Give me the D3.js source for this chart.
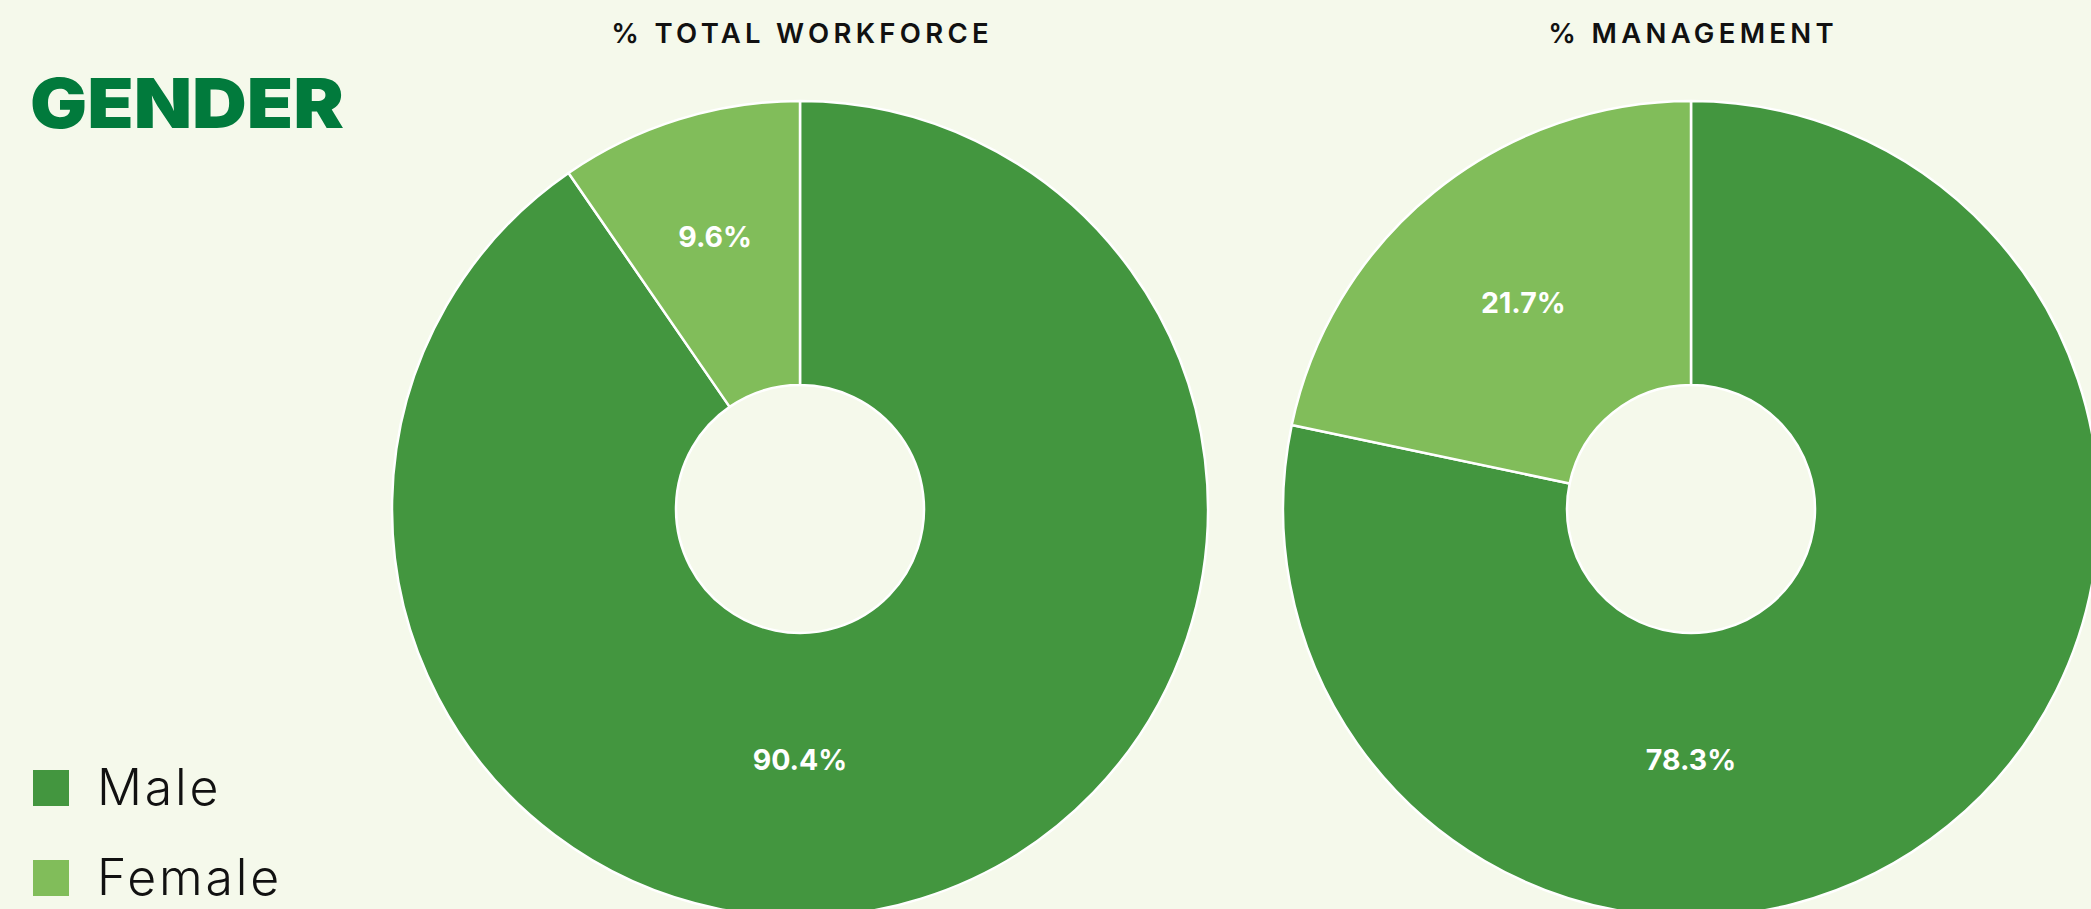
<!DOCTYPE html>
<html>
<head>
<meta charset="utf-8">
<script src="https://cdn.jsdelivr.net/npm/d3@7"></script>
<style>
  html, body { margin: 0; padding: 0; background: #F5F9EB; overflow: hidden; }
  svg { display: block; }
</style>
</head>
<body>
<svg id="chart" width="2091" height="909"></svg>
<script>
// Gender split of the workforce, shown as two donuts
const categories = ["Male", "Female"];
const panelTitles = ["% TOTAL WORKFORCE", "% MANAGEMENT"];
const workforceShare = [90.4, 9.6];
const managementShare = [78.3, 21.7];
const seriesValues = [workforceShare, managementShare];

const W = 2091, H = 909;
const colors = d3.scaleOrdinal().domain(categories).range(["#43963F", "#81BD5A"]);

const svg = d3.select("#chart");
svg.append("rect").attr("width", W).attr("height", H).attr("fill", "#F5F9EB");

// Heading
svg.append("text")
  .attr("x", 30).attr("y", 128)
  .attr("font-family", "Inter, 'Noto Sans', sans-serif")
  .attr("font-weight", 900)
  .attr("font-size", 69)
  .attr("fill", "#017A3C")
  .attr("textLength", 314)
  .attr("lengthAdjust", "spacingAndGlyphs")
  .text("GENDER");

// Panel layout
const outerR = 408, innerR = 124;
const centers = d3.scalePoint().domain(panelTitles).range([800, 1691]);
const cy = 509;

const pie = d3.pie().sort(null).value(d => d.value);
const arc = d3.arc().innerRadius(innerR).outerRadius(outerR);

const titleSpacing = 4.3;

panelTitles.forEach((title, i) => {
  const cx = centers(title);
  const data = categories.map((c, k) => ({ category: c, value: seriesValues[i][k] }));
  const total = d3.sum(data, d => d.value);

  svg.append("text")
    .attr("x", cx + titleSpacing / 2).attr("y", 43)
    .attr("text-anchor", "middle")
    .attr("font-family", "Inter, 'Noto Sans', sans-serif")
    .attr("font-weight", 600)
    .attr("font-size", 27.5)
    .attr("letter-spacing", titleSpacing)
    .attr("fill", "#111")
    .text(title);

  const g = svg.append("g").attr("transform", `translate(${cx},${cy})`);
  const arcs = pie(data);

  g.selectAll("path").data(arcs).join("path")
    .attr("d", arc)
    .attr("fill", d => colors(d.data.category))
    .attr("stroke", "#ffffff")
    .attr("stroke-width", 2.5)
    .attr("stroke-linejoin", "round");

  // Value labels: large slices sit at the bottom, small ones near mid-angle
  g.selectAll("text.val").data(arcs).join("text")
    .attr("class", "val")
    .attr("transform", d => {
      const share = d.data.value / total;
      let a = (d.startAngle + d.endAngle) / 2;
      let r;
      if (share > 0.5) { a = Math.PI; r = outerR * 0.613; }
      else if (share < 0.15) { r = outerR * 0.7; }
      else { r = (innerR + outerR) / 2; }
      return `translate(${r * Math.sin(a)},${-r * Math.cos(a)})`;
    })
    .attr("text-anchor", "middle")
    .attr("dominant-baseline", "central")
    .attr("font-family", "Inter, 'Noto Sans', sans-serif")
    .attr("font-weight", 650)
    .attr("font-size", 28.5)
    .attr("fill", "#ffffff")
    .text(d => d3.format(".1f")(d.data.value) + "%");
});

// Legend
const legend = svg.append("g");
const ly = d3.scalePoint().domain(categories).range([788, 878]);
categories.forEach(c => {
  legend.append("rect")
    .attr("x", 33).attr("y", ly(c) - 18)
    .attr("width", 36).attr("height", 36)
    .attr("fill", colors(c));
  legend.append("text")
    .attr("x", 97).attr("y", ly(c) + 17)
    .attr("font-family", "Inter, 'Noto Sans', sans-serif")
    .attr("font-weight", 350)
    .attr("font-size", 50)
    .attr("letter-spacing", 2.8)
    .attr("fill", "#111")
    .text(c);
});
</script>
</body>
</html>
